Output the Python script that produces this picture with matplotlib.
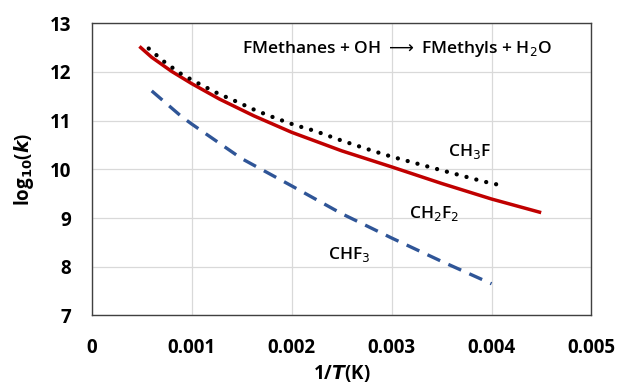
import numpy as np
import matplotlib.pyplot as plt

plt.rcParams['font.family'] = ['Open Sans', 'DejaVu Sans']

# 1/T values and log10(k)
x_ch3f = [0.00057, 0.00073, 0.0009, 0.00108, 0.00126, 0.00146, 0.00164, 0.00184,
          0.00203, 0.00223, 0.0025, 0.00281, 0.003, 0.0035, 0.00392, 0.00412]
y_ch3f = [12.48, 12.20, 11.95, 11.75, 11.56, 11.38, 11.21, 11.05,
          10.91, 10.79, 10.59, 10.38, 10.26, 9.98, 9.75, 9.66]

x_ch2f2 = [0.00049, 0.0006, 0.0008, 0.001, 0.00128, 0.00162, 0.002, 0.0025,
           0.003, 0.0035, 0.004, 0.00448]
y_ch2f2 = [12.50, 12.30, 12.01, 11.76, 11.44, 11.10, 10.76, 10.38,
           10.05, 9.71, 9.39, 9.12]

x_chf3 = [0.0006, 0.0009, 0.001, 0.0015, 0.002, 0.0025, 0.003, 0.0035, 0.004]
y_chf3 = [11.61, 11.08, 10.93, 10.22, 9.66, 9.09, 8.59, 8.11, 7.65]

fig, ax = plt.subplots(figsize=(6.2, 3.87), dpi=100)
fig.subplots_adjust(left=0.148, right=0.954, top=0.94, bottom=0.185)

ax.plot(x_ch2f2, y_ch2f2, color='#c00000', lw=2.5)
ax.plot(x_ch3f, y_ch3f, color='black', lw=3.1, ls=(0, (0.01, 2.35)), dash_capstyle='round')
ax.plot(x_chf3, y_chf3, color='#2f5597', lw=2.4, ls=(0, (4.2, 2.7)))

ax.set_xlim(0, 0.005)
ax.set_ylim(7, 13)
ax.set_xticks([0, 0.001, 0.002, 0.003, 0.004, 0.005])
ax.set_xticklabels(['0', '0.001', '0.002', '0.003', '0.004', '0.005'])
ax.set_yticks(range(7, 14))
ax.grid(color='#d9d9d9', lw=0.9)
ax.set_axisbelow(True)
for s in ax.spines.values():
    s.set_color('#404040')
    s.set_linewidth(1.0)
ax.tick_params(length=0, labelsize=13.5)
ax.tick_params(axis='x', pad=16)
ax.tick_params(axis='y', pad=15)
for lab in ax.get_xticklabels() + ax.get_yticklabels():
    lab.set_fontweight('bold')

ax.set_xlabel(r'1/$\mathbfit{T}$(K)', fontsize=13.5, fontweight='bold', labelpad=4)
ax.set_ylabel(r'log$_{\mathbf{10}}$($\mathbfit{k}$)', fontsize=13.5, fontweight='bold', labelpad=10)

ax.text(0.00305, 12.48, r'FMethanes + OH $\longrightarrow$ FMethyls + H$_2$O', fontsize=12.5,
        fontweight='semibold', ha='center', va='center')
ax.text(0.00378, 10.36, r'CH$_3$F', fontsize=12.5, fontweight='semibold', ha='center', va='center')
ax.text(0.00343, 9.09, r'CH$_2$F$_2$', fontsize=12.5, fontweight='semibold', ha='center', va='center')
ax.text(0.00258, 8.26, r'CHF$_3$', fontsize=12.5, fontweight='semibold', ha='center', va='center')

fig.savefig('out.png', dpi=100)
